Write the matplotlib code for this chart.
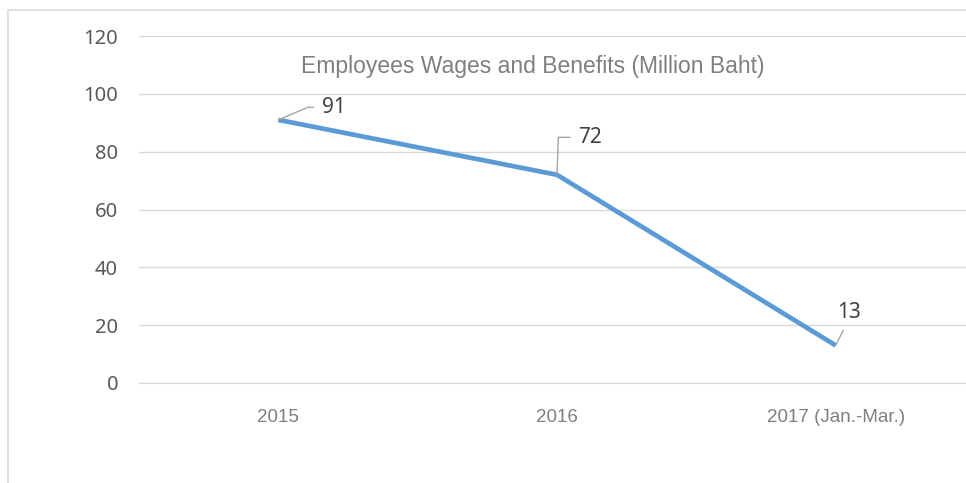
import matplotlib
matplotlib.use("Agg")
import matplotlib.pyplot as plt
from matplotlib.patches import Rectangle

# data
years = ["2015", "2016", "2017 (Jan.-Mar.)"]
wages = [91, 72, 13]
y_ticks = [0, 20, 40, 60, 80, 100, 120]

# label offsets (points) and leader line styles, one per point
label_offsets = [(40, 9), (24, 27), (10, 24)]
label_conns = ["angle,angleA=0,angleB=23,rad=0",
               "angle,angleA=0,angleB=88,rad=0",
               "arc3,rad=0"]
label_relpos = [(0, 0.5), (0, 0.5), (0.4, 0)]

W, H = 966, 483
fig = plt.figure(figsize=(W / 100, H / 100), dpi=100)

# outer chart frame (only top and left are visible in the picture)
fig.patches.append(Rectangle((8 / W, -0.2), 1.2, 1.2 - 10 / H,
                             transform=fig.transFigure, fill=False,
                             edgecolor="#d9d9d9", linewidth=1.2))

ax = fig.add_axes([139 / W, 1 - 383 / H, 836 / W, (383 - 36) / H])
x = list(range(len(years)))
ax.plot(x, wages, color="#5b9bd5", linewidth=3.4, solid_capstyle="butt",
        solid_joinstyle="round", zorder=3)

ax.set_xlim(-0.5, len(years) - 0.5)
ax.set_ylim(0, 120)
ax.set_yticks(y_ticks)
ax.set_xticks(x)
ax.set_xticklabels(years, fontsize=13.5, color="#7f7f7f", family="Liberation Sans")
ax.set_yticklabels([str(t) for t in y_ticks], fontsize=14.5, color="#595959",
                   family="Noto Sans")
ax.tick_params(axis="y", length=0, pad=15)
ax.tick_params(axis="x", length=0, pad=19)
ax.grid(axis="y", color="#d9d9d9", linewidth=1)
ax.set_axisbelow(True)
for side in ["top", "right", "left"]:
    ax.spines[side].set_visible(False)
ax.spines["bottom"].set_color("#d9d9d9")

for i, v in enumerate(wages):
    ax.annotate(str(v), xy=(i, v), xytext=label_offsets[i],
                textcoords="offset points", ha="center", va="center",
                fontsize=15, color="#404040", family="Noto Sans",
                arrowprops=dict(arrowstyle="-", color="#a6a6a6", lw=1,
                                connectionstyle=label_conns[i],
                                relpos=label_relpos[i],
                                shrinkA=4, shrinkB=0))

fig.text(533 / W, 1 - 66 / H, "Employees Wages and Benefits (Million Baht)",
         ha="center", va="center", fontsize=16.5, color="#7f7f7f",
         family="Liberation Sans")

fig.savefig("out.png", dpi=100)
